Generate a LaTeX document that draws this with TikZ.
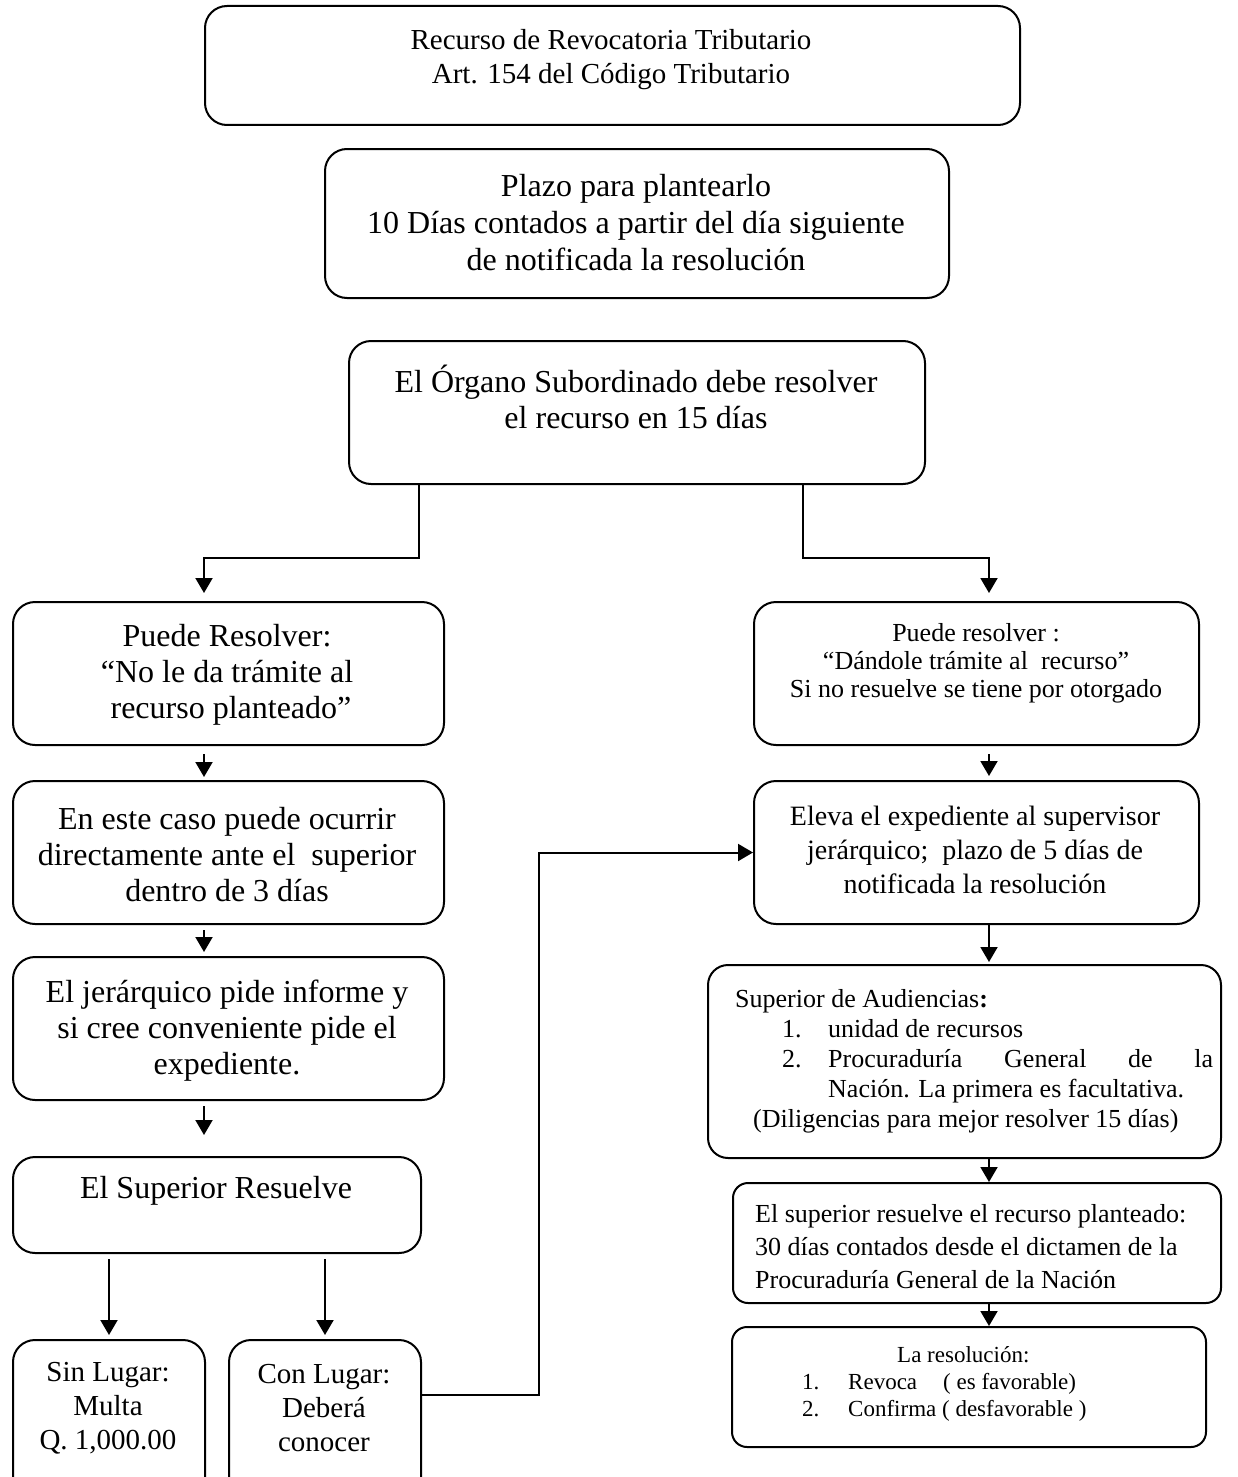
\documentclass[tikz,border=0pt]{standalone}
\usepackage{fontspec}
\setmainfont{Liberation Serif}
\usetikzlibrary{arrows.meta,calc}
\newcommand\fsz[2]{\fontsize{#1}{#2}\selectfont}
\begin{document}
\begin{tikzpicture}[x=1pt,y=-1pt,
  box/.style={draw, line width=2pt, rounded corners=22pt, inner sep=0pt, anchor=north west},
  sbox/.style={box, rounded corners=15pt},
  txt/.style={align=center, inner sep=0pt},
  arr/.style={line width=2pt, -{Triangle[width=17pt,length=15pt]}}]
\path[use as bounding box, clip] (0,0) rectangle (1238,1477);
\fill[white] (0,0) rectangle (1238,1477);

% boxes
\node[box, minimum width=815pt, minimum height=119pt] (b1) at (204,5) {};
\node[box, minimum width=624pt, minimum height=149pt] (b2) at (324,148) {};
\node[box, minimum width=576pt, minimum height=143pt] (b3) at (348,340) {};
\node[box, minimum width=431pt, minimum height=143pt] (b4) at (12,601) {};
\node[box, minimum width=445pt, minimum height=143pt] (b5) at (753,601) {};
\node[box, minimum width=431pt, minimum height=143pt] (b6) at (12,780) {};
\node[box, minimum width=431pt, minimum height=143pt] (b7) at (12,956) {};
\node[box, minimum width=408pt, minimum height=96pt] (b8) at (12,1156) {};
\node[box, minimum width=192pt, minimum height=160pt] (b9) at (12,1339) {};
\node[box, minimum width=192pt, minimum height=160pt] (b10) at (228,1339) {};
\node[box, minimum width=445pt, minimum height=143pt] (b11) at (753,780) {};
\node[box, rounded corners=20pt, minimum width=513pt, minimum height=193pt] (b12) at (707,964) {};
\node[sbox, minimum width=488pt, minimum height=120pt] (b13) at (732,1182) {};
\node[sbox, minimum width=474pt, minimum height=120pt] (b14) at (731,1326) {};

% texts
\node[txt, font=\fsz{29}{34}] (t1) at (611,60) {Recurso de Revocatoria Tributario\\Art. 154 del Código Tributario};
\node[txt, font=\fsz{32}{37}] (t2) at (636,223) {Plazo para plantearlo\\10 Días contados a partir del día siguiente\\de notificada la resolución};
\node[txt, font=\fsz{32}{36}] (t3) at (636,397) {El Órgano Subordinado debe resolver\\el recurso en 15 días};
\node[txt, font=\fsz{32}{36}] (t4) at (227,675) {Puede Resolver:\\“No le da trámite al\\\ recurso planteado”};
\node[txt, font=\fsz{26}{28}] (t5) at (976,663) {Puede resolver :\\“Dándole trámite al\ \ recurso”\\Si no resuelve se tiene por otorgado};
\node[txt, font=\fsz{32}{36}] (t6) at (227,855) {En este caso puede ocurrir\\directamente ante el\ \ superior\\dentro de 3 días};
\node[txt, font=\fsz{32}{36}] (t7) at (227,1031) {El jerárquico pide informe y\\si cree conveniente pide el\\expediente.};
\node[txt, font=\fsz{32}{36}] (t8) at (216,1191) {El Superior Resuelve};
\node[txt, font=\fsz{29}{34}] (t9) at (108,1408) {Sin Lugar:\\Multa\\Q. 1,000.00};
\node[txt, font=\fsz{29}{34}] (t10) at (324,1408) {Con Lugar:\\Deberá\\conocer};
\node[txt, font=\fsz{28}{34}] (t11) at (975,850) {Eleva el expediente al supervisor\\jerárquico;\ \ plazo de 5 días de\\notificada la resolución};
\node[inner sep=0pt, anchor=west, font=\fsz{26}{30}] (t12) at (735,1061) {\parbox{480pt}{\raggedright
Superior de Audiencias\textbf{:}\\
\hspace*{47pt}\makebox[46pt][l]{1.}unidad de recursos\\
\hspace*{47pt}\makebox[46pt][l]{2.}\makebox[385pt][s]{Procuraduría\hfill General\hfill de\hfill la}\\
\hspace*{93pt}Nación. La primera es facultativa.\\
\hspace*{18pt}(Diligencias para mejor resolver 15 días)}};
\node[inner sep=0pt, anchor=west, font=\fsz{26}{33}] (t13) at (755,1247) {\parbox{470pt}{\raggedright
El superior resuelve el recurso planteado:\\
30 días contados desde el dictamen de la\\
Procuraduría General de la Nación}};
\node[inner sep=0pt, anchor=west, font=\fsz{23}{27}] (t14) at (802,1384) {\parbox{400pt}{\raggedright
\hspace*{95pt}La resolución:\\
\makebox[46pt][l]{1.}\makebox[95pt][l]{Revoca}( es favorable)\\
\makebox[46pt][l]{2.}Confirma ( desfavorable )}};

% helper coordinates
\coordinate (xl) at (204,0);
\coordinate (xr) at (989,0);
\coordinate (x419) at (419,0);
\coordinate (x803) at (803,0);
\coordinate (x539) at (539,0);
\coordinate (y1395) at (0,1395);

% connectors
\draw[arr, shorten >=8pt] (b3.south -| x419) -- ++(0,73) -| (b4.north -| xl);
\draw[arr, shorten >=8pt] (b3.south -| x803) -- ++(0,73) -| (b5.north -| xr);
\draw[arr, shorten <=8pt, shorten >=3pt] (b4.south -| xl) -- (b6.north -| xl);
\draw[arr, shorten <=5pt, shorten >=4pt] (b6.south -| xl) -- (b7.north -| xl);
\draw[arr, shorten <=5pt, shorten >=21pt] (b7.south -| xl) -- (b8.north -| xl);
\draw[arr, shorten <=5pt, shorten >=4pt] (b9.north |- b8.south) -- (b9.north);
\draw[arr, shorten <=5pt, shorten >=4pt] (b10.north |- b8.south) -- (b10.north);
\draw[arr] (b10.east |- y1395) -| (x539 |- b11.west) -- (b11.west);
\draw[arr, shorten <=8pt, shorten >=4pt] (b5.south -| xr) -- (b11.north -| xr);
\draw[arr, shorten >=2pt] (b11.south -| xr) -- (b12.north -| xr);
\draw[arr] (b12.south -| xr) -- (b13.north -| xr);
\draw[arr] (b13.south -| xr) -- (b14.north -| xr);
\end{tikzpicture}
\end{document}
